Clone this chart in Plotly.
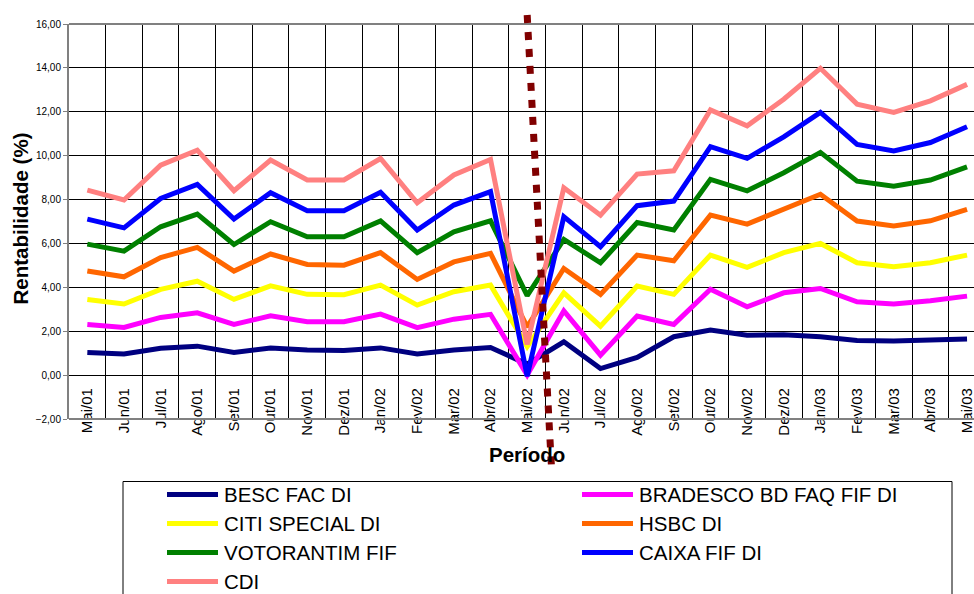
import plotly.graph_objects as go

# Monthly returns (%) per fund, May/2001 - May/2003
months = ["Mai/01", "Jun/01", "Jul/01", "Ago/01", "Set/01", "Out/01", "Nov/01", "Dez/01",
          "Jan/02", "Fev/02", "Mar/02", "Abr/02", "Mai/02", "Jun/02", "Jul/02", "Ago/02",
          "Set/02", "Out/02", "Nov/02", "Dez/02", "Jan/03", "Fev/03", "Mar/03", "Abr/03", "Mai/03"]

besc = [1.03, 0.96, 1.22, 1.32, 1.03, 1.24, 1.14, 1.12, 1.24, 0.96, 1.14, 1.26, 0.50,
        1.52, 0.30, 0.81, 1.75, 2.05, 1.82, 1.84, 1.75, 1.58, 1.55, 1.60, 1.64]
bradesco = [2.31, 2.17, 2.63, 2.84, 2.31, 2.70, 2.43, 2.43, 2.78, 2.16, 2.55, 2.77, 0.00,
            2.93, 0.91, 2.69, 2.31, 3.91, 3.11, 3.75, 3.95, 3.34, 3.24, 3.39, 3.60]
citi = [3.45, 3.24, 3.91, 4.28, 3.45, 4.07, 3.68, 3.66, 4.10, 3.19, 3.80, 4.10, 1.30,
        3.75, 2.23, 4.06, 3.68, 5.47, 4.91, 5.58, 6.00, 5.12, 4.94, 5.12, 5.47]
hsbc = [4.74, 4.48, 5.36, 5.82, 4.74, 5.52, 5.04, 5.01, 5.58, 4.36, 5.16, 5.55, 2.20,
        4.86, 3.68, 5.47, 5.21, 7.29, 6.88, 7.55, 8.24, 7.02, 6.80, 7.03, 7.55]
votorantim = [5.97, 5.65, 6.76, 7.34, 5.95, 6.99, 6.30, 6.30, 7.03, 5.58, 6.53, 7.03, 3.62,
              6.18, 5.12, 6.95, 6.61, 8.92, 8.40, 9.22, 10.15, 8.84, 8.61, 8.89, 9.49]
caixa = [7.11, 6.71, 8.05, 8.69, 7.11, 8.31, 7.49, 7.49, 8.33, 6.61, 7.75, 8.36, -0.05,
         7.22, 5.85, 7.72, 7.93, 10.41, 9.88, 10.86, 11.97, 10.51, 10.22, 10.60, 11.32]
cdi = [8.43, 7.98, 9.57, 10.25, 8.40, 9.80, 8.89, 8.89, 9.87, 7.85, 9.12, 9.83, 1.40,
       8.54, 7.29, 9.16, 9.31, 12.08, 11.36, 12.57, 13.98, 12.35, 11.97, 12.50, 13.25]

names = ["BESC FAC DI", "BRADESCO BD FAQ FIF DI", "CITI SPECIAL DI", "HSBC DI",
         "VOTORANTIM FIF", "CAIXA FIF DI", "CDI"]
values = [besc, bradesco, citi, hsbc, votorantim, caixa, cdi]
colors = ["#000080", "#FF00FF", "#FFFF00", "#FF6600", "#008000", "#0000FF", "#FF8080"]

# drawing order (CAIXA on top)
draw_order = [0, 1, 2, 3, 4, 6, 5]

W, H = 974, 594
ML, MR, MT, MB = 69, 0, 24, 175
PW, PH = W - ML - MR, H - MT - MB
X_RANGE = [-0.5, 24.19]
Y_RANGE = [-2, 16]
FONT = "Liberation Sans, Arial, sans-serif"


def px_x(px):
    return (px - ML) / PW


def px_y(py):
    return (H - MB - py) / PH


def cat_x(c):
    return (c - X_RANGE[0]) / (X_RANGE[1] - X_RANGE[0])


def val_y(v):
    return (v - Y_RANGE[0]) / (Y_RANGE[1] - Y_RANGE[0])


fig = go.Figure()
for i in draw_order:
    fig.add_trace(go.Scatter(
        x=months, y=values[i], name=names[i], mode="lines",
        line=dict(color=colors[i], width=5), showlegend=False,
        hoverinfo="x+y+name",
    ))

shapes = []
# plot frame (top, bottom)
for yy in (0, 1):
    shapes.append(dict(type="line", xref="paper", yref="paper", x0=0, x1=1, y0=yy, y1=yy,
                       line=dict(color="#808080", width=2), layer="above"))

# dotted divider between Mai/02 and Jun/02
shapes.append(dict(type="line", xref="paper", yref="paper",
                   x0=cat_x(12.0), y0=val_y(16.41), x1=cat_x(12.66), y1=val_y(-4.10),
                   line=dict(color="#800000", width=7, dash="8px,9px"), layer="above"))

# legend box
shapes.append(dict(type="rect", xref="paper", yref="paper",
                   x0=px_x(123), x1=px_x(952), y0=px_y(481.5), y1=px_y(620),
                   line=dict(color="black", width=1), fillcolor="white", layer="above"))

annotations = []
col_x = [167, 582]
row_y0, row_dy = 494.5, 29
for k in range(len(names)):
    r, c = divmod(k, 2)
    yy = row_y0 + r * row_dy
    shapes.append(dict(type="line", xref="paper", yref="paper",
                       x0=px_x(col_x[c]), x1=px_x(col_x[c] + 51), y0=px_y(yy), y1=px_y(yy),
                       line=dict(color=colors[k], width=5), layer="above"))
    annotations.append(dict(xref="paper", yref="paper", x=px_x(col_x[c] + 55), y=px_y(yy),
                            text=names[k], showarrow=False, xanchor="left", yanchor="middle",
                            font=dict(family=FONT, size=20.5, color="black")))

# axis titles
annotations.append(dict(xref="paper", yref="paper", x=px_x(20), y=px_y(218.5),
                        text="<b>Rentabilidade (%)</b>", textangle=-90, showarrow=False,
                        xanchor="center", yanchor="middle",
                        font=dict(family=FONT, size=20.5, color="black")))
annotations.append(dict(xref="paper", yref="paper", x=cat_x(12.0), y=px_y(454),
                        text="<b>Período</b>", showarrow=False,
                        xanchor="center", yanchor="middle",
                        font=dict(family=FONT, size=20.5, color="black")))

fig.update_layout(
    width=W, height=H,
    margin=dict(l=ML, r=MR, t=MT, b=MB, pad=0),
    paper_bgcolor="white", plot_bgcolor="white",
    separators=",.",
    font=dict(family=FONT, color="black"),
    shapes=shapes, annotations=annotations,
    xaxis=dict(
        type="category", categoryorder="array", categoryarray=months,
        range=X_RANGE, tickson="boundaries",
        showgrid=True, gridcolor="black", gridwidth=1,
        ticks="", tickangle=-90, tickfont=dict(family=FONT, size=15, color="black"),
        anchor="free", position=val_y(0), showline=False, zeroline=False,
        ticklabelstandoff=9,
    ),
    yaxis=dict(
        range=Y_RANGE, dtick=2, tick0=0, tickformat=".2f",
        showgrid=True, gridcolor="black", gridwidth=1, zeroline=False,
        showline=True, linecolor="#808080", linewidth=2,
        ticks="outside", ticklen=4, tickcolor="#808080",
        tickfont=dict(family=FONT, size=10, color="black"),
    ),
)

fig.write_html("out.html")
